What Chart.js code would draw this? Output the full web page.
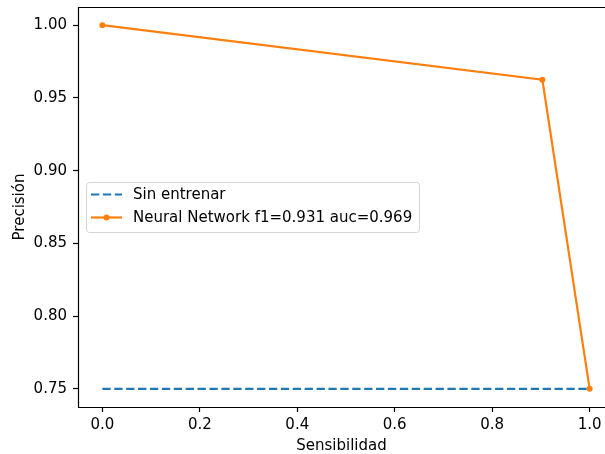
<!DOCTYPE html>
<html>
<head>
<meta charset="utf-8">
<script src="https://cdn.jsdelivr.net/npm/chart.js@4.4.0/dist/chart.umd.min.js"></script>
<style>
  html, body { margin:0; padding:0; background:#fff; overflow:hidden; }
</style>
</head>
<body>
<canvas id="prChart" width="605" height="454"></canvas>
<script>
// data
const recallBase = [0, 1];
const precisionBase = [0.75, 0.75];
const recallNN = [0, 0.903, 1];
const precisionNN = [1.0, 0.9625, 0.75];
const xTicks = [0, 0.2, 0.4, 0.6, 0.8, 1.0];
const yTicks = [0.75, 0.80, 0.85, 0.90, 0.95, 1.00];
const labelBase = 'Sin entrenar';
const labelNN = 'Neural Network f1=0.931 auc=0.969';

const FONT = 'DejaVu Sans';
const FS = 15;
const BLUE = '#1f77b4', ORANGE = '#ff7f0e';

// original axes run -0.05..1.05 but the right edge (px 614) is cut off by the 605px image
const X_MIN = -0.05, X_FULL_MAX = 1.05;
const X_MAX = X_MIN + (X_FULL_MAX - X_MIN) * (605 - 78) / (614 - 78);

function toPoints(xs, ys) { return xs.map((x, i) => ({ x: x, y: ys[i] })); }

// spines (left, top, bottom) + legend at center left, like matplotlib
const mplFrame = {
  id: 'mplFrame',
  afterDraw(chart) {
    const ctx = chart.ctx, a = chart.chartArea;
    ctx.save();
    ctx.strokeStyle = '#000';
    ctx.lineWidth = 1.2;
    const l = Math.round(a.left) + 0.5, t = Math.round(a.top) + 0.5, b = Math.round(a.bottom) + 0.5;
    ctx.beginPath();
    ctx.moveTo(chart.width, t); ctx.lineTo(l, t); ctx.lineTo(l, b); ctx.lineTo(chart.width, b);
    ctx.stroke();

    // legend
    const ds = chart.data.datasets;
    const bx = 86, by = 182, bw = 333, bh = 50;
    ctx.fillStyle = 'rgba(255,255,255,0.8)';
    ctx.strokeStyle = 'rgba(204,204,204,0.8)';
    ctx.lineWidth = 1;
    ctx.beginPath();
    ctx.roundRect(bx + 0.5, by + 0.5, bw, bh, 3);
    ctx.fill();
    ctx.stroke();
    ctx.font = FS + 'px "' + FONT + '"';
    ctx.textBaseline = 'middle';
    ds.forEach((d, i) => {
      const cy = by + 12.5 + i * 23;
      ctx.strokeStyle = d.borderColor;
      ctx.lineWidth = d.borderWidth;
      ctx.setLineDash(d.borderDash || []);
      ctx.beginPath();
      ctx.moveTo(91, cy);
      ctx.lineTo(122, cy);
      ctx.stroke();
      ctx.setLineDash([]);
      if (d.pointRadius > 0) {
        ctx.fillStyle = d.borderColor;
        ctx.beginPath();
        ctx.arc(106.5, cy, d.pointRadius, 0, Math.PI * 2);
        ctx.fill();
      }
      ctx.fillStyle = '#000';
      ctx.textAlign = 'left';
      ctx.fillText(d.label, 133, cy + 1);
    });
    ctx.restore();
  }
};

new Chart(document.getElementById('prChart'), {
  type: 'line',
  data: {
    datasets: [
      { label: labelBase, data: toPoints(recallBase, precisionBase), borderColor: BLUE, backgroundColor: BLUE,
        borderWidth: 2.2, borderDash: [8.3, 3.6], pointRadius: 0, fill: false, tension: 0 },
      { label: labelNN, data: toPoints(recallNN, precisionNN), borderColor: ORANGE, backgroundColor: ORANGE,
        borderWidth: 2.2, pointRadius: 3, pointBorderWidth: 0, pointBackgroundColor: ORANGE, fill: false, tension: 0 }
    ]
  },
  options: {
    responsive: false,
    animation: false,
    layout: { autoPadding: false, padding: { top: 7, right: 0, left: 0, bottom: 0 } },
    plugins: { legend: { display: false }, tooltip: { enabled: false } },
    scales: {
      x: {
        type: 'linear', min: X_MIN, max: X_MAX,
        afterBuildTicks: s => { s.ticks = xTicks.map(v => ({ value: v })); },
        afterFit: s => { s.height = 47; s.paddingLeft = 0; s.paddingRight = 0; },
        ticks: { callback: v => v.toFixed(1), color: '#000', padding: 4, maxRotation: 0,
                 font: { family: FONT, size: FS } },
        grid: { drawOnChartArea: false, drawTicks: true, tickLength: 5, color: '#000', tickWidth: 1.2 },
        border: { display: false },
        title: { display: true, text: 'Sensibilidad', color: '#000', padding: { top: 0, bottom: -1 },
                 font: { family: FONT, size: FS } }
      },
      y: {
        type: 'linear', min: 0.7375, max: 1.0125,
        afterBuildTicks: s => { s.ticks = yTicks.map(v => ({ value: v })); },
        afterFit: s => { s.width = 78; s.paddingTop = 0; s.paddingBottom = 0; },
        ticks: { callback: v => v.toFixed(2), color: '#000', padding: 6,
                 font: { family: FONT, size: FS } },
        grid: { drawOnChartArea: false, drawTicks: true, tickLength: 5, color: '#000', tickWidth: 1.2 },
        border: { display: false },
        title: { display: true, text: 'Precisión', color: '#000', padding: { top: 11, bottom: 0 },
                 font: { family: FONT, size: FS } }
      }
    }
  },
  plugins: [mplFrame]
});
</script>
</body>
</html>
